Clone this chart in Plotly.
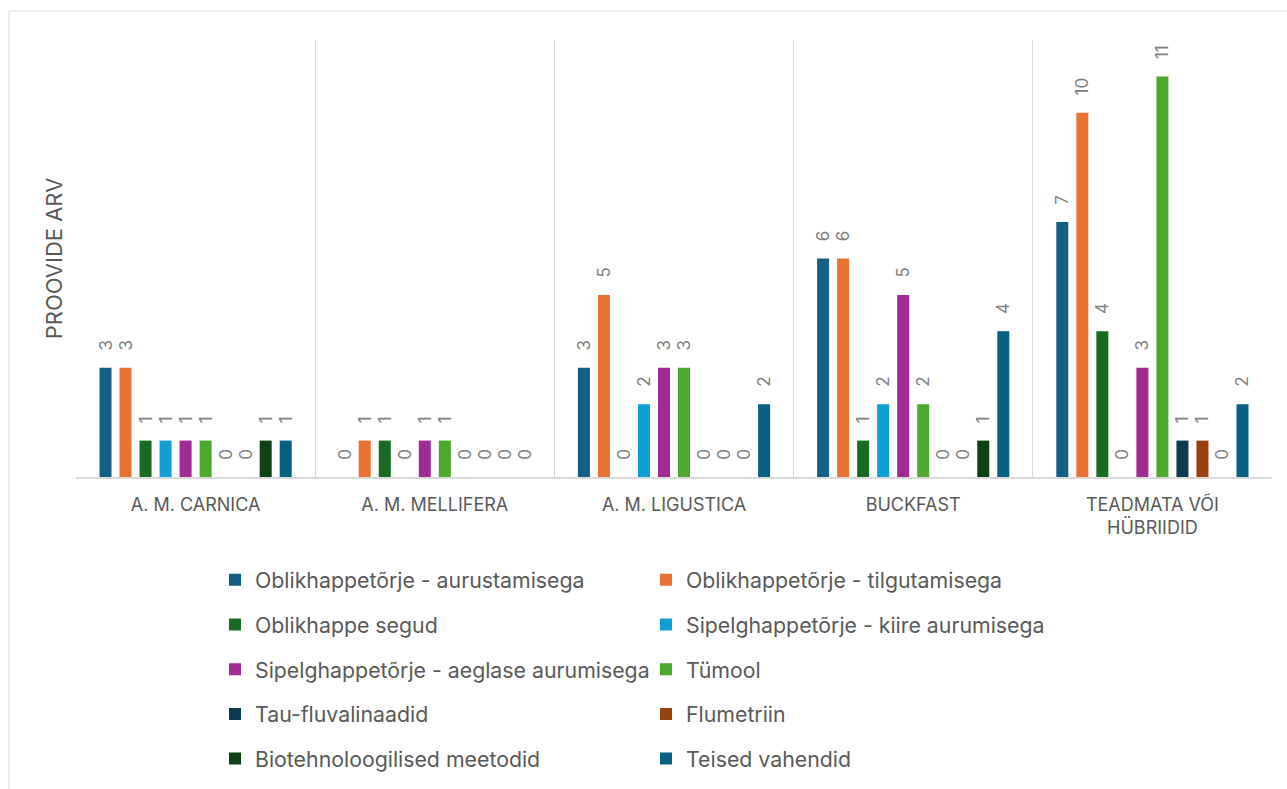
import plotly.graph_objects as go

categories = ["A. M. CARNICA", "A. M. MELLIFERA", "A. M. LIGUSTICA", "BUCKFAST", "TEADMATA VÕI<br>HÜBRIIDID"]

series_names = [
    "Oblikhappetõrje - aurustamisega",
    "Oblikhappetõrje - tilgutamisega",
    "Oblikhappe segud",
    "Sipelghappetõrje - kiire aurumisega",
    "Sipelghappetõrje - aeglase aurumisega",
    "Tümool",
    "Tau-fluvalinaadid",
    "Flumetriin",
    "Biotehnoloogilised meetodid",
    "Teised vahendid",
]

oblik_aurustamine = [3, 0, 3, 6, 7]
oblik_tilgutamine = [3, 1, 5, 6, 10]
oblik_segud = [1, 1, 0, 1, 4]
sipelg_kiire = [1, 0, 2, 2, 0]
sipelg_aeglane = [1, 1, 3, 5, 3]
tymool = [1, 1, 3, 2, 11]
tau_fluvalinaadid = [0, 0, 0, 0, 1]
flumetriin = [0, 0, 0, 0, 1]
biotehnoloogilised = [1, 0, 0, 1, 0]
teised = [1, 0, 2, 4, 2]

values = [oblik_aurustamine, oblik_tilgutamine, oblik_segud, sipelg_kiire, sipelg_aeglane,
          tymool, tau_fluvalinaadid, flumetriin, biotehnoloogilised, teised]

colors = ["#156082", "#E97132", "#196B24", "#0F9ED5", "#A02B93",
          "#4EA72E", "#0D3A4E", "#994010", "#0F4016", "#095F80"]

W, H = 1287, 789
L, R, T, B = 76, 15, 40, 312
pw, ph = W - L - R, H - T - B

FONT = "Inter, Open Sans, sans-serif"

def px_x(x):
    return (x - L) / pw

def px_y(y):
    return (H - B - y) / ph

fig = go.Figure()
for i, (name, vals, col) in enumerate(zip(series_names, values, colors)):
    fig.add_trace(go.Bar(
        x=categories, y=vals, name=name,
        marker=dict(color=col, line=dict(width=0)),
        texttemplate="\u00a0\u00a0\u00a0%{y}",
        textposition="outside",
        textangle=-90,
        constraintext="none",
        cliponaxis=False,
        textfont=dict(family=FONT, size=17, color="#808080"),
        legend="legend" if i % 2 == 0 else "legend2",
        legendgroup=f"g{i}",
        hoverinfo="skip",
    ))

legend_common = dict(
    font=dict(family=FONT, size=21.3, color="#595959"),
    bgcolor="rgba(0,0,0,0)",
    orientation="v",
    xanchor="left", yanchor="top",
    tracegroupgap=14.0,
    itemwidth=30,
)

fig.update_layout(
    width=W, height=H,
    margin=dict(l=L, r=R, t=T, b=B, autoexpand=False),
    paper_bgcolor="white", plot_bgcolor="white",
    barmode="group",
    bargap=0.163,
    bargroupgap=0.4,
    showlegend=True,
    legend=dict(x=px_x(215), y=px_y(559.5), **legend_common),
    legend2=dict(x=px_x(646), y=px_y(559.5), **legend_common),
    xaxis=dict(
        type="category",
        tickson="boundaries",
        showgrid=True, gridcolor="#d9d9d9", gridwidth=1,
        showline=True, linecolor="#d9d9d9", linewidth=2,
        ticks="",
        tickfont=dict(family=FONT, size=18, color="#595959"),
        ticklabelstandoff=10,
        range=[-0.5, len(categories) - 0.5],
        fixedrange=True,
    ),
    yaxis=dict(
        range=[0, 12],
        showgrid=False, showticklabels=False, zeroline=False, showline=False, ticks="",
        title=dict(text="PROOVIDE ARV", standoff=6,
                   font=dict(family=FONT, size=22, color="#595959")),
        fixedrange=True,
    ),
    shapes=[dict(type="rect", xref="paper", yref="paper",
                 x0=px_x(9), x1=px_x(1320), y0=px_y(820), y1=px_y(11),
                 line=dict(color="#d9d9d9", width=1), fillcolor="rgba(0,0,0,0)", layer="below")],
)

fig.write_html("out.html")
